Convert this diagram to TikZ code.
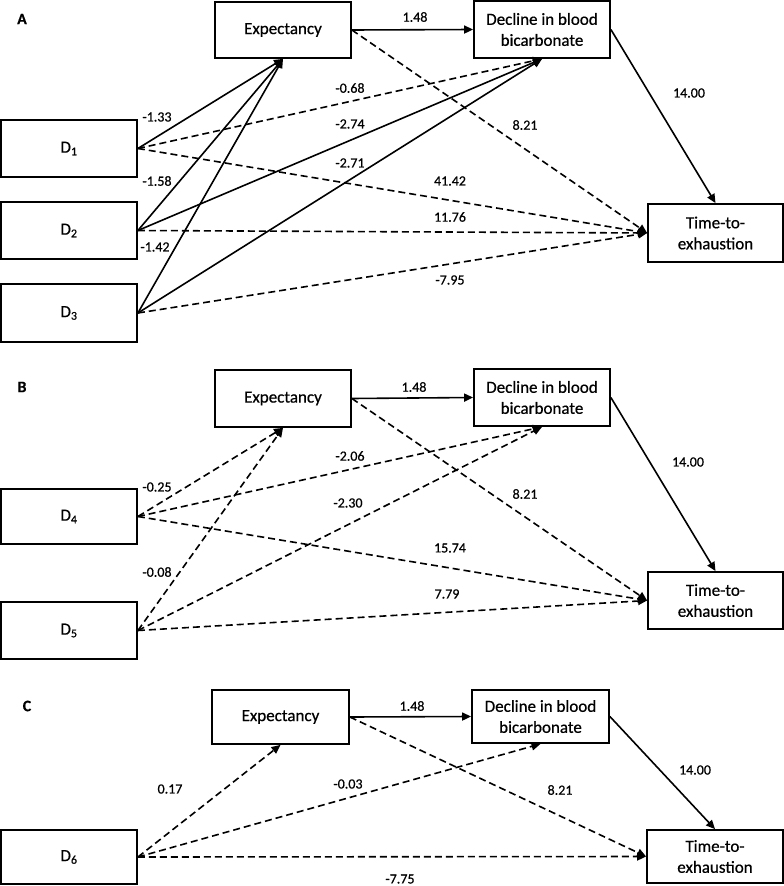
\documentclass[tikz,border=0pt]{standalone}
\usepackage{fontspec}
\setmainfont{Carlito}[FakeBold=0.3]
\newfontfamily\heavyfont{Carlito}[FakeBold=0.6]
\usetikzlibrary{arrows.meta}
\begin{document}
\begin{tikzpicture}[x=1pt,y=-1pt,
 box/.style={draw,line width=1.8pt,inner sep=0pt,minimum width=136pt,minimum height=56pt,align=center,font=\fontsize{17}{21}\selectfont\heavyfont},
 lab/.style={inner sep=0pt,font=\fontsize{14}{16}\selectfont\heavyfont},
 panel/.style={inner sep=0pt,font=\fontsize{16}{18}\selectfont\bfseries},
 link/.style={line width=1.6pt,-{Triangle[length=9pt,width=8pt]}},
 dlink/.style={link,dash pattern=on 7pt off 4pt}]
\useasboundingbox (0,0) rectangle (784,886);

% ---------- Panel A ----------
\node[panel] (pA) at (22,19) {A};
\node[box] (expA) at (283,30) {Expectancy};
\node[box,minimum height=57pt] (decA) at (542,29.5) {Decline in blood\\bicarbonate};
\node[box,minimum width=135pt,minimum height=58pt] (timA) at (715.5,233) {Time-to-\\exhaustion};
\node[box,minimum height=57pt] (d1) at (69,148.5) {D\textsubscript{1}};
\node[box,minimum height=57pt] (d2) at (69,230.5) {D\textsubscript{2}};
\node[box,minimum height=58pt] (d3) at (69,313) {D\textsubscript{3}};

\draw[link] (expA.east) -- (decA.west);
\draw[dlink] (expA.east) -- (timA.west);
\draw[link] (decA.east) -- (timA.north);
\draw[link] (d1.east) -- (expA.south);
\draw[dlink] (d1.east) -- (decA.south);
\draw[dlink] (d1.east) -- (timA.west);
\draw[link] (d2.east) -- (expA.south);
\draw[link] (d2.east) -- (decA.south);
\draw[dlink] (d2.east) -- (timA.west);
\draw[link] (d3.east) -- (expA.south);
\draw[link] (d3.east) -- (decA.south);
\draw[dlink] (d3.east) -- (timA.west);

\node[lab] (a1) at (415,17) {1.48};
\node[lab] (a2) at (157,117) {-1.33};
\node[lab] (a3) at (350,88) {-0.68};
\node[lab] (a4) at (350,124) {-2.74};
\node[lab] (a5) at (350,163) {-2.71};
\node[lab] (a6) at (157,181) {-1.58};
\node[lab] (a7) at (155,247) {-1.42};
\node[lab] (a8) at (450,181) {41.42};
\node[lab] (a9) at (450,217) {11.76};
\node[lab] (a10) at (450,280) {-7.95};
\node[lab] (a11) at (525,125) {8.21};
\node[lab] (a12) at (689,93) {14.00};

% ---------- Panel B ----------
\node[panel] (pB) at (22,387) {B};
\node[box,minimum height=57pt] (expB) at (283,398.5) {Expectancy};
\node[box,minimum height=57pt] (decB) at (542,397.5) {Decline in blood\\bicarbonate};
\node[box,minimum width=135pt,minimum height=57pt] (timB) at (715.5,600.5) {Time-to-\\exhaustion};
\node[box,minimum height=55pt] (d4) at (69,516.5) {D\textsubscript{4}};
\node[box,minimum height=57pt] (d5) at (69,630.5) {D\textsubscript{5}};

\draw[link] (expB.east) -- (decB.west);
\draw[dlink] (expB.east) -- (timB.west);
\draw[link] (decB.east) -- (timB.north);
\draw[dlink] (d4.east) -- (expB.south);
\draw[dlink] (d4.east) -- (decB.south);
\draw[dlink] (d4.east) -- (timB.west);
\draw[dlink] (d5.east) -- (expB.south);
\draw[dlink] (d5.east) -- (decB.south);
\draw[dlink] (d5.east) -- (timB.west);

\node[lab] (b1) at (414,387) {1.48};
\node[lab] (b2) at (157,487) {-0.25};
\node[lab] (b3) at (350,456) {-2.06};
\node[lab] (b4) at (348,503) {-2.30};
\node[lab] (b5) at (157,572) {-0.08};
\node[lab] (b6) at (450,548) {15.74};
\node[lab] (b7) at (447,594) {7.79};
\node[lab] (b8) at (525,494) {8.21};
\node[lab] (b9) at (688,462) {14.00};

% ---------- Panel C ----------
\node[panel] (pC) at (27,706) {C};
\node[box,minimum width=137pt,minimum height=54pt] (expC) at (280.5,717) {Expectancy};
\node[box,minimum width=137pt,minimum height=53pt] (decC) at (540.5,716.5) {Decline in blood\\bicarbonate};
\node[box,minimum width=136pt,minimum height=53pt] (timC) at (715,856.5) {Time-to-\\exhaustion};
\node[box,minimum height=54pt] (d6) at (69,857) {D\textsubscript{6}};

\draw[link] (expC.east) -- (decC.west);
\draw[dlink] (expC.east) -- (timC.west);
\draw[link] (decC.east) -- (timC.north);
\draw[dlink] (d6.east) -- (expC.south);
\draw[dlink] (d6.east) -- (decC.south);
\draw[dlink] (d6.east) -- (timC.west);

\node[lab] (c1) at (412,706) {1.48};
\node[lab] (c2) at (170,789) {0.17};
\node[lab] (c3) at (348,784) {-0.03};
\node[lab] (c4) at (560,790) {8.21};
\node[lab] (c5) at (695,770) {14.00};
\node[lab] (c6) at (400,879) {-7.75};
\end{tikzpicture}
\end{document}
